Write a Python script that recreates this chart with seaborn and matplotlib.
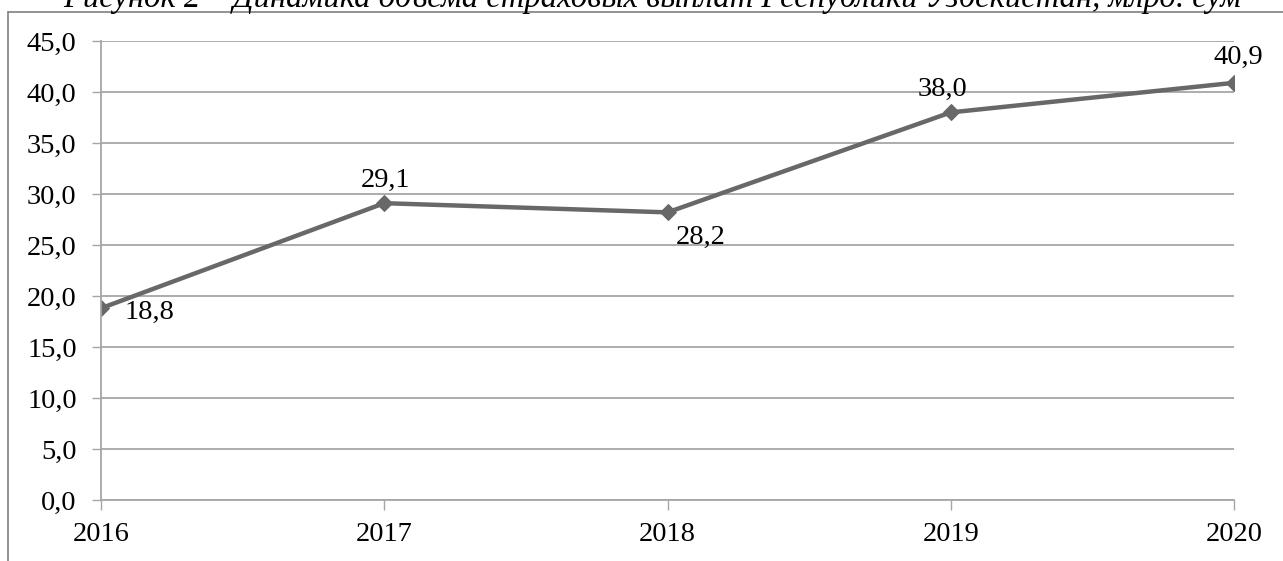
import matplotlib
matplotlib.use("Agg")
import matplotlib.pyplot as plt
from matplotlib.lines import Line2D
from matplotlib.ticker import FuncFormatter, MultipleLocator
import seaborn as sns
import pandas as pd

# ---- data ----
years = [2016, 2017, 2018, 2019, 2020]
values = [18.8, 29.1, 28.2, 38.0, 40.9]
title_text = "Рисунок 2 – Динамика объема страховых выплат Республики Узбекистан, млрд. сум"

# label offsets (pixels) and alignments - style only
label_offsets = [(24, -4), (1, 10), (8, -13), (-8, 10), (4, 13)]
label_ha = ["left", "center", "left", "center", "center"]
label_va = ["center", "bottom", "top", "bottom", "bottom"]

sns.set_theme(style="whitegrid")
plt.rcParams["font.family"] = ["Liberation Serif", "DejaVu Serif"]

W, H = 1283, 561
fig = plt.figure(figsize=(W / 100, H / 100), dpi=100)
ax = fig.add_axes([101 / W, (H - 500) / H, (1234 - 101) / W, (500 - 41) / H])

df = pd.DataFrame({"year": years, "value": values})
sns.lineplot(data=df, x="year", y="value", ax=ax, color="#686868", linewidth=3.2,
             marker="D", markersize=8, markeredgecolor="#686868")

ax.set_xlim(years[0], years[-1])
ax.set_ylim(0, 45)
ax.yaxis.set_major_locator(MultipleLocator(5))
ax.set_xticks(years)
ax.set_xticklabels([str(y) for y in years])
ax.yaxis.set_major_formatter(FuncFormatter(lambda v, p: f"{v:.1f}".replace(".", ",")))
ax.set_xlabel("")
ax.set_ylabel("")

ax.set_facecolor("white")
ax.grid(axis="y", color="#a6a6a6", linewidth=1.3)
ax.grid(axis="x", visible=False)
for side in ["top", "right"]:
    ax.spines[side].set_visible(False)
for side in ["left", "bottom"]:
    ax.spines[side].set_visible(True)
    ax.spines[side].set_color("#a6a6a6")
    ax.spines[side].set_linewidth(1.3)

ax.tick_params(axis="y", which="major", left=True, length=6.5, width=1, color="#a6a6a6",
               direction="out", pad=11, labelsize=20.5, labelcolor="black")
ax.tick_params(axis="x", which="major", bottom=True, length=7, width=1, color="#a6a6a6",
               direction="out", pad=9, labelsize=20.5, labelcolor="black")

for (x, y), (dx, dy), ha, va in zip(zip(years, values), label_offsets, label_ha, label_va):
    ax.annotate(f"{y:.1f}".replace(".", ","), (x, y), xytext=(dx, dy),
                textcoords="offset pixels", ha=ha, va=va, fontsize=20.5, color="black",
                annotation_clip=False)

# frame lines of the surrounding figure
fig.add_artist(Line2D([7.5 / W, 7.5 / W], [0, 1 - 12 / H], transform=fig.transFigure,
                      color="#808080", linewidth=1.2))
fig.add_artist(Line2D([7.5 / W, 1], [1 - 12 / H, 1 - 12 / H], transform=fig.transFigure,
                      color="#808080", linewidth=1.2))

# caption at the top (clipped by the page edge, as in the source)
fig.text(652 / W, 1 - 7 / H, title_text, ha="center", va="baseline", fontsize=23.5,
         style="italic", color="black")

fig.savefig("out.png", dpi=100, facecolor="white")
